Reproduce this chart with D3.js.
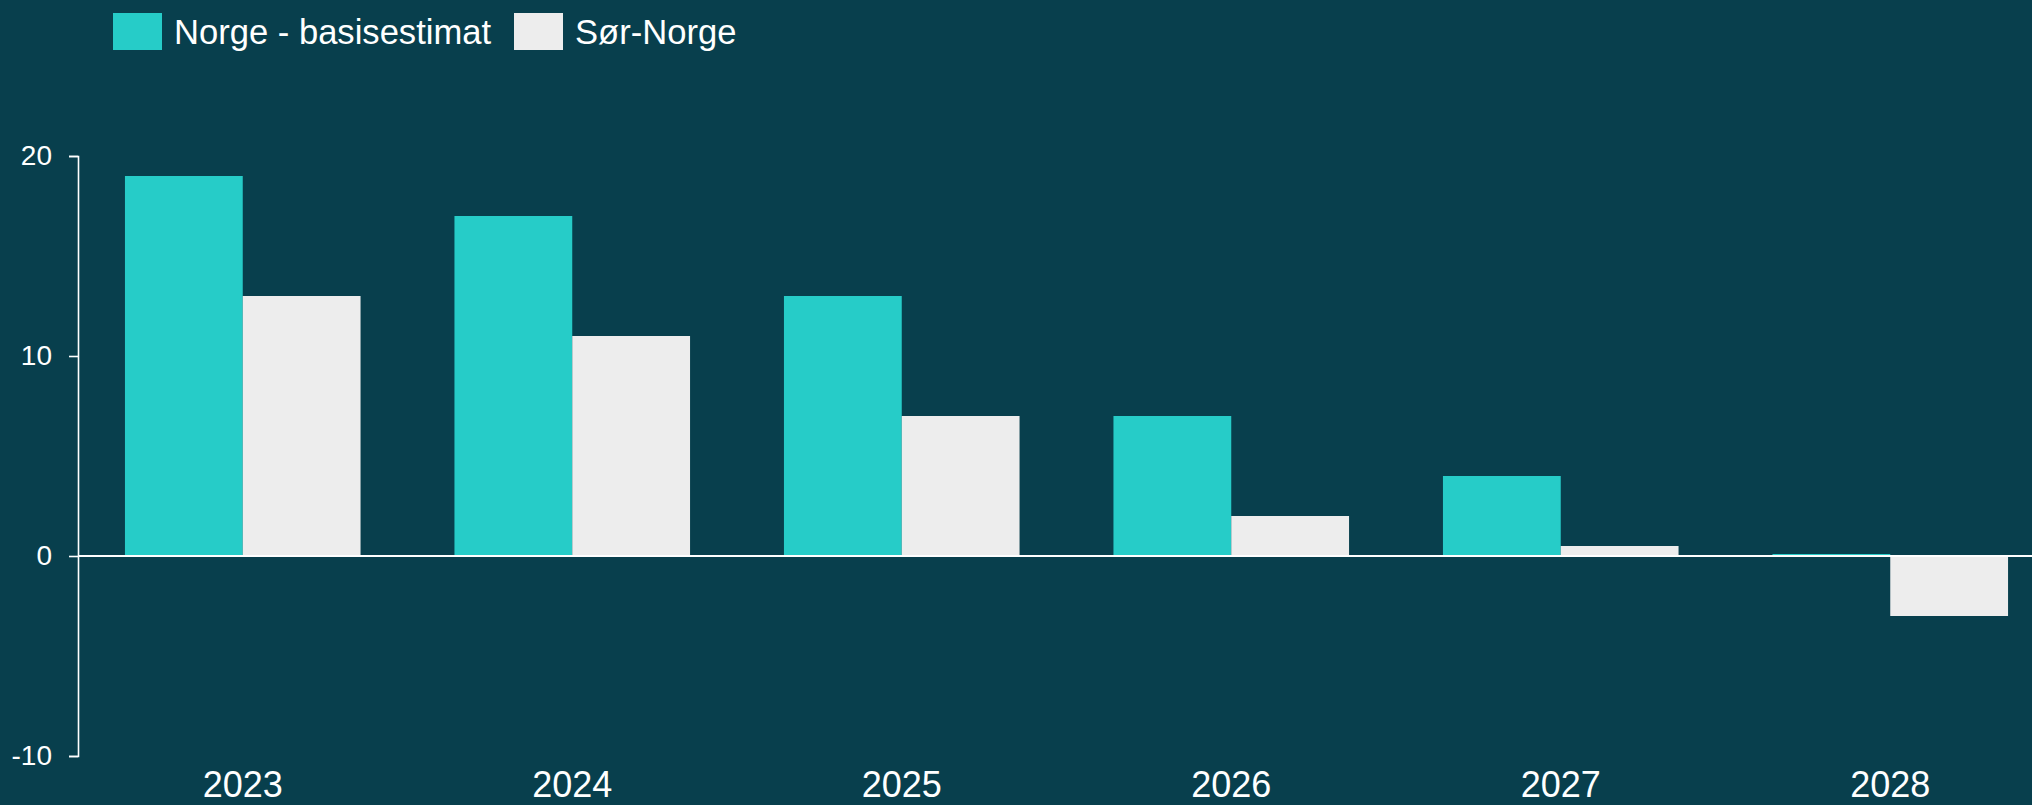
<!DOCTYPE html>
<html lang="no">
<head>
  <meta charset="UTF-8" />
  <title>Norge - basisestimat vs Sør-Norge</title>
  <script src="https://d3js.org/d3.v7.min.js"></script>
  <style>
    html, body { margin: 0; padding: 0; background: #083f4d; }
    body { font-family: "Liberation Sans", Arial, sans-serif; }
    svg { display: block; }
    .axis text { fill: #ffffff; font-family: "Liberation Sans", Arial, sans-serif; }
    .axis path, .axis line { stroke: #ffffff; }
  </style>
</head>
<body>
<svg width="2032" height="805"></svg>
<script>
const years = ["2023", "2024", "2025", "2026", "2027", "2028"];
const seriesNames = ["Norge - basisestimat", "Sør-Norge"];
const norge = [19, 17, 13, 7, 4, 0.1];
const sorNorge = [13, 11, 7, 2, 0.5, -3];
const yTicks = [20, 10, 0, -10];
const colors = ["#26ccc8", "#ededed"];

const svg = d3.select("svg"),
      width = +svg.attr("width"),
      height = +svg.attr("height");

svg.append("rect")
  .attr("width", width)
  .attr("height", height)
  .attr("fill", "#083f4d");

const left = 78, step = 329.5;

const x0 = d3.scaleBand()
  .domain(years)
  .range([left, left + step * years.length])
  .paddingInner(0.285)
  .paddingOuter(0.1425);

const x1 = d3.scaleBand()
  .domain(seriesNames)
  .range([0, x0.bandwidth()]);

const y = d3.scaleLinear()
  .domain([-10, 20])
  .range([756, 156]);

const rows = years.map((yr, i) => ({
  year: yr,
  values: [
    { name: seriesNames[0], value: norge[i], color: colors[0] },
    { name: seriesNames[1], value: sorNorge[i], color: colors[1] }
  ]
}));

// bars
svg.append("g")
  .selectAll("g")
  .data(rows)
  .join("g")
  .attr("transform", d => `translate(${x0(d.year)},0)`)
  .selectAll("rect")
  .data(d => d.values)
  .join("rect")
  .attr("x", d => x1(d.name))
  .attr("width", x1.bandwidth())
  .attr("y", d => y(Math.max(0, d.value)))
  .attr("height", d => Math.abs(y(d.value) - y(0)))
  .attr("fill", d => d.color);

// y axis (plain hyphen for negatives, like the original)
const yAxis = svg.append("g")
  .attr("class", "axis")
  .attr("transform", `translate(${left},0)`)
  .call(d3.axisLeft(y).tickValues(yTicks).tickSize(9).tickPadding(17).tickFormat(d => String(d)));
yAxis.selectAll("text").style("font-size", "28px");
yAxis.select(".domain").attr("stroke-width", 1.6);
yAxis.selectAll(".tick line").attr("stroke-width", 1.6);

// zero line
svg.append("line")
  .attr("x1", left)
  .attr("x2", width)
  .attr("y1", y(0))
  .attr("y2", y(0))
  .attr("stroke", "#ffffff")
  .attr("stroke-width", 2);

// x axis labels
const xAxis = svg.append("g")
  .attr("class", "axis")
  .attr("transform", "translate(0,771)")
  .call(d3.axisBottom(x0).tickSize(0).tickPadding(0));
xAxis.select(".domain").remove();
xAxis.selectAll("text").style("font-size", "36px");

// legend
const legendX = [113, 514];
const legend = svg.append("g")
  .selectAll("g")
  .data(seriesNames)
  .join("g")
  .attr("transform", (d, i) => `translate(${legendX[i]},13)`);

legend.append("rect")
  .attr("width", 49)
  .attr("height", 37)
  .attr("fill", (d, i) => colors[i]);

legend.append("text")
  .attr("x", 61)
  .attr("y", 30.5)
  .attr("fill", "#ffffff")
  .style("font-size", "34.6px")
  .text(d => d);
</script>
</body>
</html>
